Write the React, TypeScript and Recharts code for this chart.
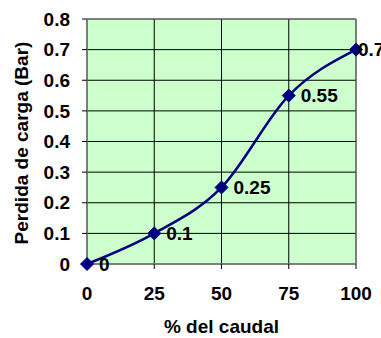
import React from 'react';
import {
    LineChart,
    Line,
    XAxis,
    YAxis,
    CartesianGrid,
    ReferenceArea,
    LabelList,
} from 'recharts';

// % del caudal vs perdida de carga (Bar)
const caudal = [0, 25, 50, 75, 100];
const perdida = [0, 0.1, 0.25, 0.55, 0.7];
const xTicks = [0, 25, 50, 75, 100];
const yTicks = [0, 0.1, 0.2, 0.3, 0.4, 0.5, 0.6, 0.7, 0.8];

const data = caudal.map((x, i) => ({ x, y: perdida[i] }));

const FONT = '"Liberation Sans", Arial, sans-serif';
const NAVY = '#000080';

const textStyle = {
    fontFamily: FONT,
    fontSize: 19,
    fontWeight: 700,
    fill: '#000',
};

// diamond marker like the Excel one
function Diamond(props: any) {
    const { cx, cy, index } = props;
    if (cx == null || cy == null) return <g key={`d-${index}`} />;
    const r = 6.5;
    return (
        <path
            key={`d-${index}`}
            d={`M${cx},${cy - r}L${cx + r},${cy}L${cx},${cy + r}L${cx - r},${cy}Z`}
            fill={NAVY}
            stroke={NAVY}
        />
    );
}

function PointLabel(props: any) {
    const { x, y, value } = props;
    // keep the last label from running past the chart edge
    const lx = Math.min(x + 12, 358);
    return (
        <text x={lx} y={y} dominantBaseline="central" {...textStyle}>
            {value}
        </text>
    );
}

export default function App() {
    return (
        <div style={{ position: 'absolute', left: 0, top: 0 }}>
            <LineChart
                width={381}
                height={338}
                data={data}
                margin={{ top: 19, right: 25, bottom: 0, left: 0 }}
            >
                <CartesianGrid stroke="#000" fill="#CCFFCC" fillOpacity={1} />
                <ReferenceArea
                    x1={0}
                    x2={100}
                    y1={0}
                    y2={0.8}
                    fill="none"
                    stroke="#808080"
                    strokeWidth={1}
                    ifOverflow="visible"
                />
                <XAxis
                    dataKey="x"
                    type="number"
                    domain={[0, 100]}
                    ticks={xTicks}
                    height={74}
                    tickSize={5}
                    tickMargin={18}
                    axisLine={{ stroke: '#808080' }}
                    tickLine={{ stroke: '#000' }}
                    tick={textStyle}
                    label={{
                        value: '% del caudal',
                        position: 'insideBottom',
                        offset: 5,
                        style: textStyle,
                    }}
                />
                <YAxis
                    type="number"
                    domain={[0, 0.8]}
                    ticks={yTicks}
                    width={87}
                    tickSize={5}
                    tickMargin={12}
                    axisLine={{ stroke: '#808080' }}
                    tickLine={{ stroke: '#000' }}
                    tick={textStyle}
                    tickFormatter={(v: number) => String(v)}
                    label={{
                        content: () => (
                            <text
                                x={21}
                                y={143}
                                transform="rotate(-90 21 143)"
                                textAnchor="middle"
                                dominantBaseline="central"
                                {...textStyle}
                            >
                                Perdida de carga (Bar)
                            </text>
                        ),
                    }}
                />
                <Line
                    type="monotone"
                    dataKey="y"
                    stroke={NAVY}
                    strokeWidth={2.5}
                    dot={Diamond}
                    activeDot={false}
                    isAnimationActive={false}
                >
                    <LabelList dataKey="y" content={PointLabel} />
                </Line>
            </LineChart>
        </div>
    );
}
